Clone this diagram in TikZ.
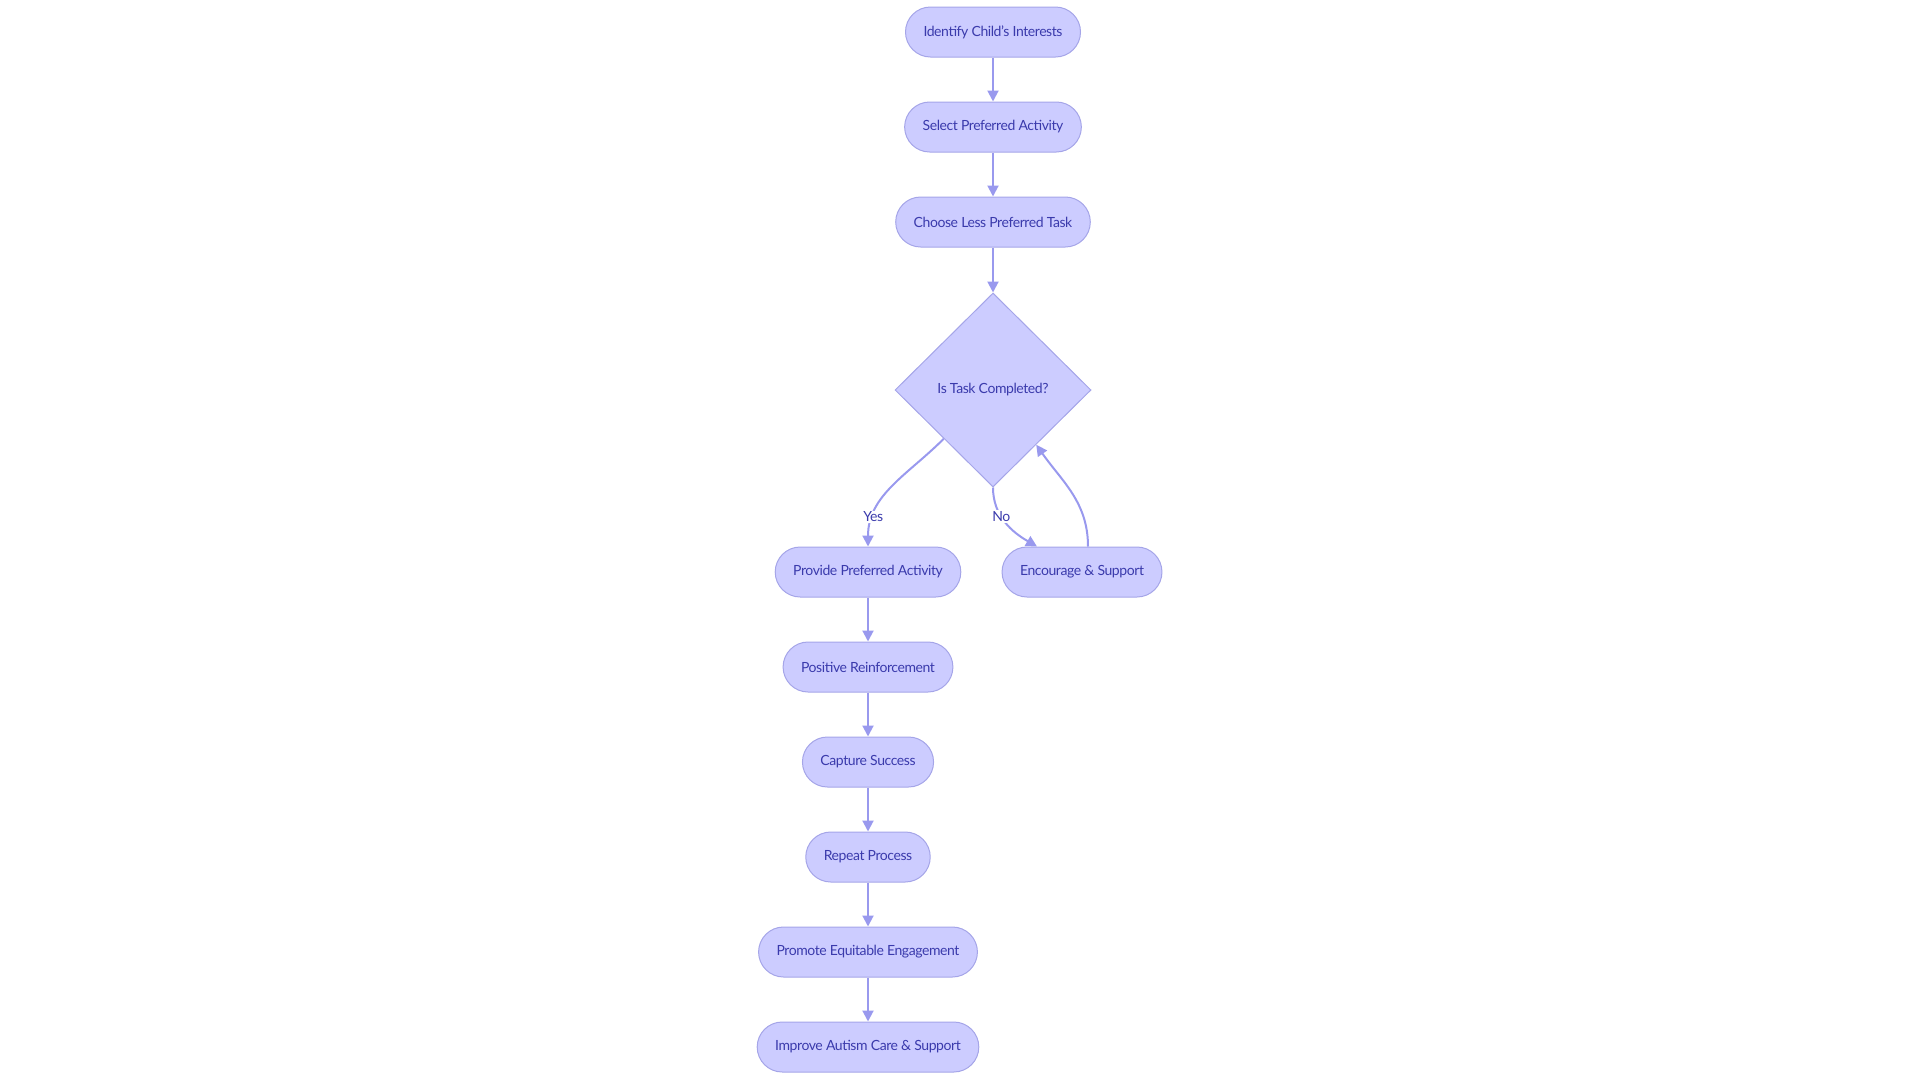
\documentclass[tikz,border=0pt]{standalone}
\usepackage{fontspec}
\setmainfont{Lato}[LetterSpace=-3]
\usetikzlibrary{shapes.geometric,arrows.meta}
\definecolor{boxfill}{RGB}{204,204,255}
\definecolor{boxline}{RGB}{165,165,232}
\definecolor{boxtext}{RGB}{58,58,172}
\definecolor{edgeline}{RGB}{153,153,238}
\begin{document}
\begin{tikzpicture}[x=1pt, y=1pt,
  box/.style={draw=boxline, fill=boxfill, line width=1pt, rounded corners=25pt,
    minimum height=50pt, inner xsep=18pt, text=boxtext, font=\fontsize{14}{16}\selectfont},
  decision/.style={diamond, draw=boxline, fill=boxfill, line width=1pt, inner sep=0pt,
    minimum width=196pt, minimum height=194pt, text=boxtext, font=\fontsize{14}{16}\selectfont},
  arrow/.style={draw=edgeline, line width=2pt, -{Triangle[length=11pt,width=11pt]}},
  lbl/.style={fill=white, text=boxtext, inner sep=1pt, font=\fontsize{14}{16}\selectfont}]

\useasboundingbox (0,0) rectangle (1920,-1080);

\node[box] (S1) at (993,-32) {Identify Child's Interests};
\node[box] (S2) at (993,-127) {Select Preferred Activity};
\node[box] (S3) at (993,-222) {Choose Less Preferred Task};

\node[decision] (D) at (993,-390) {Is Task Completed?};

\node[box] (L1) at (868,-572) {Provide Preferred Activity};
\node[box] (L2) at (868,-667) {Positive Reinforcement};
\node[box] (L3) at (868,-762) {Capture Success};
\node[box] (L4) at (868,-857) {Repeat Process};
\node[box] (L5) at (868,-952) {Promote Equitable Engagement};
\node[box] (L6) at (868,-1047) {Improve Autism Care \& Support};

\node[box] (E) at (1082,-572) {Encourage \& Support};

\foreach \a/\b in {S1/S2,S2/S3,S3/D,L1/L2,L2/L3,L3/L4,L4/L5,L5/L6}
\draw[arrow] (\a) -- (\b);

\draw[arrow] (D.south west) to[out=225, in=90] node[lbl, pos=0.78] {Yes} (L1.north);
\draw[arrow] (D.south) to[out=-90, in=150] node[lbl, pos=0.4] {No} ([xshift=-45pt]E.north);
\draw[arrow] ([xshift=6pt]E.north) to[out=90, in=-55] ([shift={(-6,-6)}]D.south east);

\end{tikzpicture}
\end{document}
